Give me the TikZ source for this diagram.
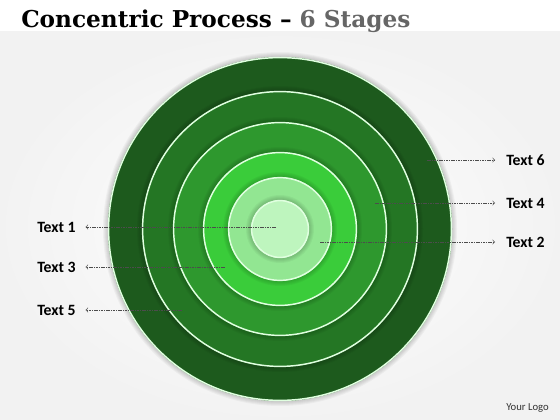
\documentclass[tikz,border=0pt]{standalone}
\usepackage{fontspec}
\usepackage{tikz}
\setmainfont{Carlito}
\newfontfamily\titlefont{DejaVu Serif}

\definecolor{ringA}{RGB}{29,90,29}
\definecolor{ringB}{RGB}{36,118,36}
\definecolor{ringC}{RGB}{46,152,46}
\definecolor{ringD}{RGB}{58,204,58}
\definecolor{ringE}{RGB}{146,230,146}
\definecolor{ringF}{RGB}{190,245,190}

\tikzset{
  ringedge/.style={draw=white!88!green, line width=1.1},
  stagelabel/.style={font=\fontsize{11.8}{14}\selectfont\bfseries, inner sep=0.75pt},
  leader/.style={->, >=to, draw=black!70, line width=0.45pt, dash pattern={on 1.2pt off 0.6pt}}
}

\begin{document}
\begin{tikzpicture}[x=0.75pt,y=0.75pt,yscale=-1,xscale=1]
\useasboundingbox (0,0) rectangle (560,420);

%Shape: Background
\fill[white] (0,0) rectangle (560,32);
\shade[inner color=white, outer color=black!5] (0,32) rectangle (560,420);

%Shape: Concentric circles
\foreach \r/\c in {172/ringA,138/ringB,107/ringC,77/ringD,52/ringE,29/ringF}{
  \foreach \s in {5,4,3,2,1}
    \fill[black, opacity=0.035] (280,229) circle [radius=\r+\s];
  \fill[\c] (280,229) circle [radius=\r];
  \draw[ringedge] (280,229) circle [radius=\r-0.6];
}

% Text Node
\draw (20,28) node [anchor=base west][inner sep=0.75pt] (title)
  {\titlefont\bfseries\fontsize{17.4}{19}\selectfont Concentric Process – \textcolor{black!60}{6 Stages}};

%Points on the rings
\coordinate (p1) at (276,227);
\coordinate (p2) at (320,242);
\coordinate (p3) at (225,267);
\coordinate (p4) at (375,203);
\coordinate (p5) at (182,310);
\coordinate (p6) at (427,160);

% Text Node
\draw (36,227) node [anchor=west][stagelabel] (t1) {Text 1};
% Text Node
\draw (505,242) node [anchor=west][stagelabel] (t2) {Text 2};
% Text Node
\draw (36,267) node [anchor=west][stagelabel] (t3) {Text 3};
% Text Node
\draw (505,203) node [anchor=west][stagelabel] (t4) {Text 4};
% Text Node
\draw (36,310) node [anchor=west][stagelabel] (t5) {Text 5};
% Text Node
\draw (505,160) node [anchor=west][stagelabel] (t6) {Text 6};
% Text Node
\draw (505,410) node [anchor=base west][inner sep=0.75pt] (logo)
  {\fontsize{8}{10}\selectfont\color{black!80}Your Logo};

%Straight Lines
\draw [leader, shorten >=6.5pt] (p1) -- (t1);
\draw [leader, shorten >=6.5pt] (p3) -- (t3);
\draw [leader, shorten >=6.5pt] (p5) -- (t5);
\draw [leader, shorten >=7.5pt] (p2) -- (t2);
\draw [leader, shorten >=7.5pt] (p4) -- (t4);
\draw [leader, shorten >=7.5pt] (p6) -- (t6);

\end{tikzpicture}
\end{document}
